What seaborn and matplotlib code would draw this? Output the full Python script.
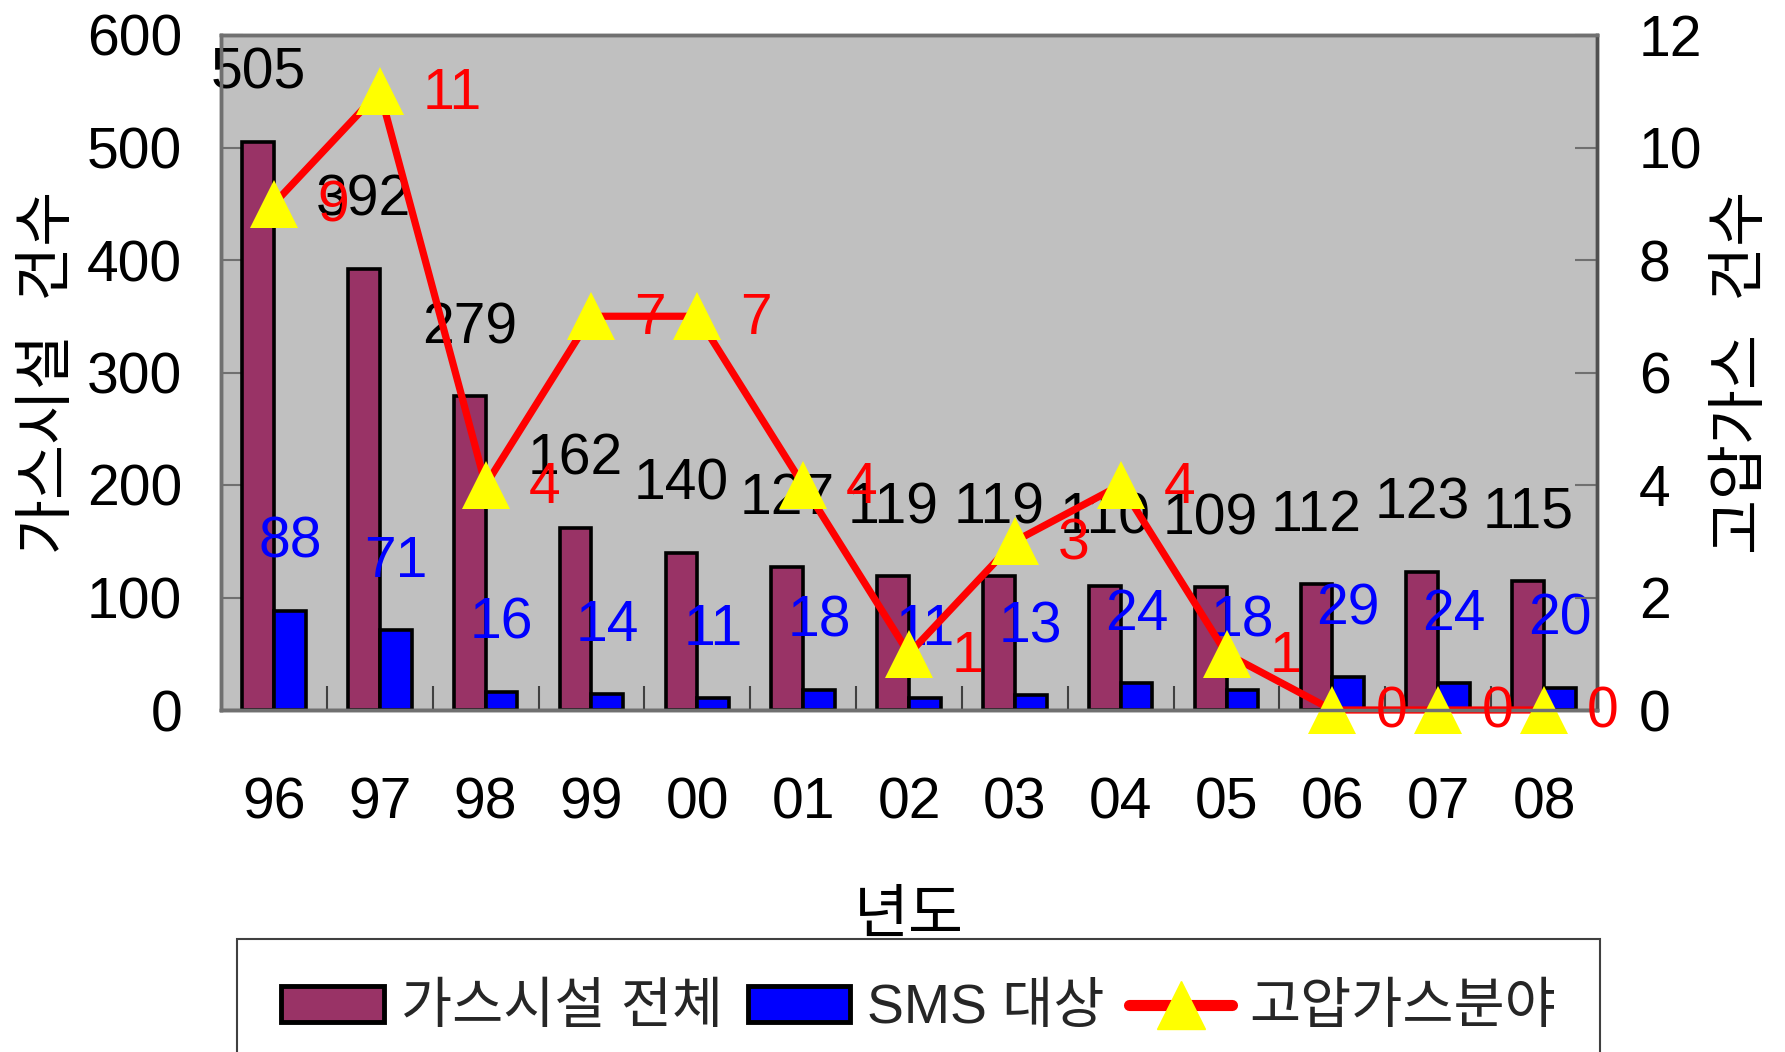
import numpy as np
import pandas as pd
import matplotlib
matplotlib.use("Agg")
import matplotlib.pyplot as plt
import seaborn as sns
from matplotlib import font_manager as fm
from matplotlib.patches import Patch
from matplotlib.lines import Line2D
from matplotlib.ticker import FixedLocator

# ---- data ----
years = ['96', '97', '98', '99', '00', '01', '02', '03', '04', '05', '06', '07', '08']
total_facilities = [505, 392, 279, 162, 140, 127, 119, 119, 110, 109, 112, 123, 115]
sms_targets = [88, 71, 16, 14, 11, 18, 11, 13, 24, 18, 29, 24, 20]
high_pressure = [9, 11, 4, 7, 7, 4, 1, 3, 4, 1, 0, 0, 0]
series_names = ['가스시설 전체', 'SMS 대상', '고압가스분야']
left_ticks = [0, 100, 200, 300, 400, 500, 600]
right_ticks = [0, 2, 4, 6, 8, 10, 12]
x_title = '년도'
left_title = '가스시설  건수'
right_title = '고압가스  건수'

sns.set_theme(style="white")
names = {f.name for f in fm.fontManager.ttflist}
NUM = 'Liberation Sans Narrow' if 'Liberation Sans Narrow' in names else 'Liberation Sans'
plt.rcParams['font.family'] = [NUM, 'Noto Sans CJK KR', 'DejaVu Sans']
plt.rcParams['axes.unicode_minus'] = False

PURPLE = '#993366'
BLUE = '#0000FF'
RED = '#FF0000'
YELLOW = '#FFFF00'
SPINE = '#707070'
FS = 41

df = pd.DataFrame({
    '년도': years * 2,
    '건수': total_facilities + sms_targets,
    '구분': [series_names[0]] * len(years) + [series_names[1]] * len(years),
})

W, H = 1785, 1052
fig = plt.figure(figsize=(W / 100, H / 100), dpi=100)
L, R, T, B = 221, 1597, 35, 710
ax1 = fig.add_axes([L / W, 1 - B / H, (R - L) / W, (B - T) / H])
ax1.set_facecolor('#C0C0C0')

sns.barplot(data=df, x='년도', y='건수', hue='구분', order=years,
            hue_order=series_names[:2],
            palette={series_names[0]: PURPLE, series_names[1]: BLUE},
            width=0.6, saturation=1, edgecolor='black', linewidth=2.6,
            errorbar=None, legend=False, ax=ax1)

for cont, vals, col in zip(ax1.containers, [total_facilities, sms_targets], ['black', BLUE]):
    for bar, v in zip(cont, vals):
        ax1.annotate(str(v), (bar.get_x() + bar.get_width() / 2, bar.get_height()),
                     xytext=(0, 49), textcoords='offset points',
                     ha='center', va='center', color=col, fontsize=FS, zorder=5)

ax2 = ax1.twinx()
sns.pointplot(x=years, y=high_pressure, order=years, ax=ax2, color=RED,
              markers='^', linestyles='-', errorbar=None,
              markersize=35, linewidth=5.2,
              markerfacecolor=YELLOW, markeredgecolor=YELLOW, markeredgewidth=0)
for ln in ax2.lines:
    ln.set_clip_on(False)
for i, v in enumerate(high_pressure):
    ax2.annotate(str(v), (i, v), xytext=(31, -2), textcoords='offset points',
                 ha='left', va='center', color=RED, fontsize=FS, annotation_clip=False)

ax1.set_xlim(-0.5, len(years) - 0.5)
ax2.set_xlim(-0.5, len(years) - 0.5)
ax1.set_ylim(left_ticks[0], left_ticks[-1])
ax2.set_ylim(right_ticks[0], right_ticks[-1])
ax1.yaxis.set_major_locator(FixedLocator(left_ticks))
ax2.yaxis.set_major_locator(FixedLocator(right_ticks))
ax1.xaxis.set_minor_locator(FixedLocator(np.arange(0.5, len(years) - 1, 1.0)))

ax1.tick_params(axis='y', which='major', left=True, direction='in', length=16, width=1.5,
                color=SPINE, labelsize=FS, pad=28, labelcolor='black')
ax1.tick_params(axis='x', which='major', bottom=False, length=0, labelsize=FS, pad=48,
                labelcolor='black')
ax1.tick_params(axis='x', which='minor', bottom=True, direction='in', length=17, width=1.5,
                color='#404040')
ax2.tick_params(axis='y', which='major', right=True, left=False, direction='in', length=16,
                width=1.5, color=SPINE, labelsize=FS, pad=30, labelcolor='black')
ax2.tick_params(axis='x', which='both', bottom=False, top=False, labelbottom=False)

for ax in (ax1, ax2):
    for s in ax.spines.values():
        s.set_visible(True)
        s.set_color(SPINE)
        s.set_linewidth(2.5)
    ax.grid(False)
ax2.spines['right'].set_color('#505050')
ax1.spines['bottom'].set_color('#505050')

ax1.set_xlabel(x_title, fontsize=43, labelpad=43, color='black')
ax2.set_xlabel('')
ax1.set_ylabel(left_title, fontsize=43, color='black')
ax2.set_ylabel(right_title, fontsize=43, color='black')
ax1.yaxis.set_label_coords(-0.105, 0.5)
ax2.yaxis.set_label_coords(1.086, 0.5)

handles = [
    Patch(facecolor=PURPLE, edgecolor='black', linewidth=3.5),
    Patch(facecolor=BLUE, edgecolor='black', linewidth=3.5),
    Line2D([0], [0], color=RED, lw=8, marker='^', markersize=34,
           markerfacecolor=YELLOW, markeredgecolor=YELLOW),
]
leg = fig.legend(handles, series_names, loc='upper left',
                 bbox_to_anchor=(237 / W, 1 - 939 / H, 1363 / W, 0), mode='expand',
                 ncol=3, fontsize=40, frameon=True, fancybox=False, framealpha=1,
                 facecolor='white', edgecolor='#404040', borderpad=0.8,
                 handlelength=1.85, handleheight=0.6, handletextpad=0.3,
                 columnspacing=0.4, borderaxespad=0)
leg.get_frame().set_linewidth(1.5)

fig.savefig('out.png', dpi=100)
